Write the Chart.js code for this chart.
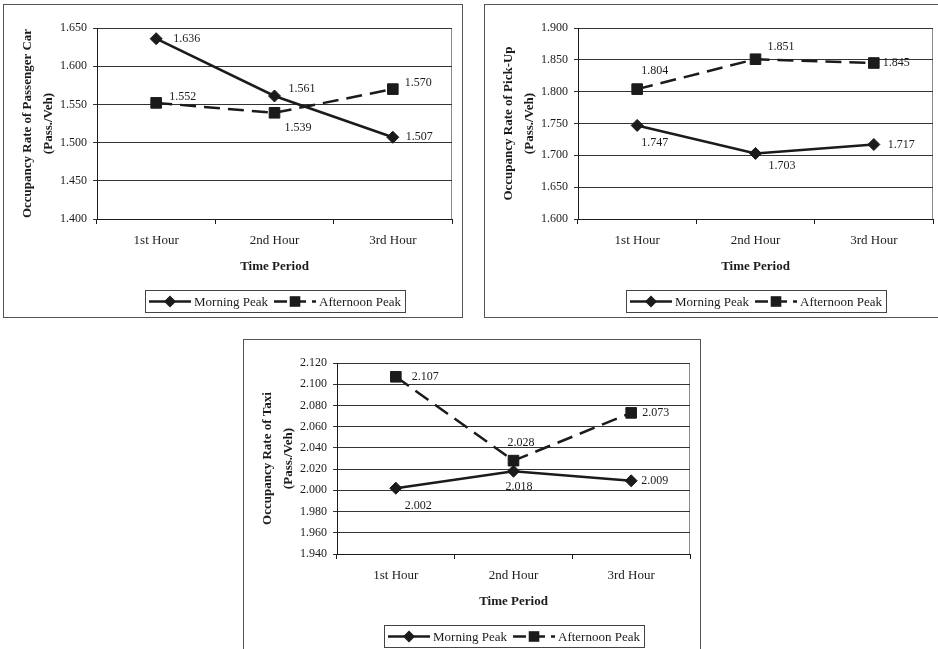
<!DOCTYPE html>
<html>
<head>
<meta charset="utf-8">
<script src="https://cdn.jsdelivr.net/npm/chart.js@4.4.0/dist/chart.umd.min.js"></script>
<style>
  body { margin: 0; width: 938px; height: 649px; overflow: hidden; background: #fff; position: relative; }
  canvas { position: absolute; }
</style>
</head>
<body>
<canvas id="car" width="460" height="314" style="left:3px;top:4px"></canvas>
<canvas id="pickup" width="460" height="314" style="left:484px;top:4px"></canvas>
<canvas id="taxi" width="458" height="314" style="left:243px;top:339px"></canvas>
<script>
// data
const hours = ['1st Hour', '2nd Hour', '3rd Hour']
const seriesNames = ['Morning Peak', 'Afternoon Peak']

const carMorning = [1.636, 1.561, 1.507]
const carAfternoon = [1.552, 1.539, 1.570]
const carTicks = { min: 1.4, max: 1.65, step: 0.05 }

const pickupMorning = [1.747, 1.703, 1.717]
const pickupAfternoon = [1.804, 1.851, 1.845]
const pickupTicks = { min: 1.6, max: 1.9, step: 0.05 }

const taxiMorning = [2.002, 2.018, 2.009]
const taxiAfternoon = [2.107, 2.028, 2.073]
const taxiTicks = { min: 1.94, max: 2.12, step: 0.02 }

// where each value label sits relative to its point (dx from point to text start, dy)
const carLabelPos = [
  [[17, 0], [14, -7], [13, 0]],
  [[13, -6], [10, 15], [12, -6]],
]
const pickupLabelPos = [
  [[4, 17], [13, 12], [14, 0]],
  [[4, -18], [12, -12], [9, 0]],
]
const taxiLabelPos = [
  [[9, 18], [-8, 16], [10, 0]],
  [[16, 0], [-6, -18], [11, 0]],
]

const serif = '"Liberation Serif", "Times New Roman", serif'
const ink = '#1b1b1b'

const drawMarker = (ctx, style, x, y, r) => {
  ctx.fillStyle = ink
  ctx.beginPath()
  if (style === 'rectRot') {
    ctx.moveTo(x, y - r)
    ctx.lineTo(x + r, y)
    ctx.lineTo(x, y + r)
    ctx.lineTo(x - r, y)
  } else {
    const s = r * Math.SQRT1_2
    ctx.rect(x - s, y - s, 2 * s, 2 * s)
  }
  ctx.closePath()
  ctx.fill()
}

const frame = {
  id: 'frame',
  beforeDraw(chart) {
    const { ctx, width, height, chartArea: a } = chart
    ctx.save()
    ctx.fillStyle = '#fff'
    ctx.fillRect(0, 0, width, height)
    ctx.strokeStyle = '#555'
    ctx.lineWidth = 1
    ctx.strokeRect(0.5, 0.5, width - 1, height - 1)
    ctx.strokeStyle = '#8a8a8a'
    ctx.strokeRect(Math.round(a.left) + 0.5, Math.round(a.top) + 0.5, Math.round(a.width) - 1, Math.round(a.height))
    ctx.restore()
  },
}

const valueLabels = {
  id: 'valueLabels',
  afterDatasetsDraw(chart) {
    const { ctx } = chart
    ctx.save()
    ctx.font = '12px ' + serif
    ctx.fillStyle = ink
    ctx.textBaseline = 'middle'
    ctx.textAlign = 'left'
    chart.data.datasets.forEach((ds, i) => {
      chart.getDatasetMeta(i).data.forEach((pt, j) => {
        const [dx, dy] = ds.labelPos[j]
        ctx.fillText(ds.data[j].toFixed(3), pt.x + dx, pt.y + dy)
      })
    })
    ctx.restore()
  },
}

const boxLegend = {
  id: 'boxLegend',
  afterDraw(chart) {
    const { ctx, chartArea: a } = chart
    ctx.save()
    ctx.font = '13px ' + serif
    const lineW = 42
    const items = chart.data.datasets.map((ds) => ({ ds, w: ctx.measureText(ds.label).width }))
    const total = items.reduce((s, it) => s + lineW + 3 + it.w, 0) + 6 * (items.length - 1) + 8
    const h = 22
    let x = Math.round((a.left + a.right) / 2 - total / 2)
    const top = Math.round(a.bottom) + 71
    ctx.strokeStyle = '#444'
    ctx.lineWidth = 1
    ctx.strokeRect(x + 0.5, top + 0.5, Math.round(total), h)
    const cy = top + h / 2 + 0.5
    x += 4
    items.forEach(({ ds, w }) => {
      ctx.strokeStyle = ink
      ctx.lineWidth = ds.borderWidth
      ctx.setLineDash(ds.borderDash ? [13, 6] : [])
      ctx.beginPath()
      ctx.moveTo(x, cy)
      ctx.lineTo(x + lineW, cy)
      ctx.stroke()
      ctx.setLineDash([])
      drawMarker(ctx, ds.pointStyle, x + lineW / 2, cy, ds.pointRadius)
      ctx.fillStyle = ink
      ctx.textBaseline = 'middle'
      ctx.fillText(ds.label, x + lineW + 3, cy + 1)
      x += lineW + 3 + w + 6
    })
    ctx.restore()
  },
}

const renderOccupancy = (id, title, morning, afternoon, range, labelPos) => {
  const ctx = document.getElementById(id).getContext('2d')
  return new Chart(ctx, {
    type: 'line',
    data: {
      labels: hours,
      datasets: [
        {
          label: seriesNames[0],
          data: morning,
          labelPos: labelPos[0],
          borderColor: ink,
          borderWidth: 2.5,
          pointStyle: 'rectRot',
          pointRadius: 6,
          pointBackgroundColor: ink,
          pointBorderColor: ink,
          pointBorderWidth: 1,
          tension: 0,
        },
        {
          label: seriesNames[1],
          data: afternoon,
          labelPos: labelPos[1],
          borderColor: ink,
          borderWidth: 2.5,
          borderDash: [16, 8],
          pointStyle: 'rect',
          pointRadius: 7.5,
          pointBackgroundColor: ink,
          pointBorderColor: ink,
          pointBorderWidth: 1,
          tension: 0,
        },
      ],
    },
    options: {
      responsive: false,
      animation: false,
      layout: {
        padding: { top: 24, right: 11, bottom: 44, left: 0 },
      },
      plugins: {
        legend: { display: false },
        tooltip: { enabled: false },
      },
      scales: {
        x: {
          offset: true,
          grid: { offset: true, drawOnChartArea: false, color: ink, tickLength: 5 },
          border: { color: ink, width: 1 },
          ticks: { color: ink, font: { family: serif, size: 13 }, padding: 9, maxRotation: 0 },
          title: {
            display: true,
            text: 'Time Period',
            color: ink,
            font: { family: serif, size: 13, weight: 'bold' },
            padding: 0,
          },
          afterFit: (s) => {
            s.height = 55
          },
        },
        y: {
          min: range.min,
          max: range.max,
          ticks: {
            stepSize: range.step,
            color: ink,
            font: { family: serif, size: 12 },
            padding: 6,
            callback: (value) => value.toFixed(3),
          },
          grid: { color: '#333', tickLength: 4 },
          border: { color: ink, width: 1 },
          title: {
            display: true,
            text: [title, '(Pass./Veh)'],
            color: ink,
            font: { family: serif, size: 13, weight: 'bold', lineHeight: 1.6 },
            padding: { top: 14, bottom: 0 },
          },
          afterFit: (s) => {
            s.width = 94
          },
        },
      },
    },
    plugins: [frame, valueLabels, boxLegend],
  })
}

renderOccupancy('car', 'Occupancy Rate of Passenger Car', carMorning, carAfternoon, carTicks, carLabelPos)
renderOccupancy('pickup', 'Occupancy Rate of Pick-Up', pickupMorning, pickupAfternoon, pickupTicks, pickupLabelPos)
renderOccupancy('taxi', 'Occupancy Rate of Taxi', taxiMorning, taxiAfternoon, taxiTicks, taxiLabelPos)
</script>
</body>
</html>
